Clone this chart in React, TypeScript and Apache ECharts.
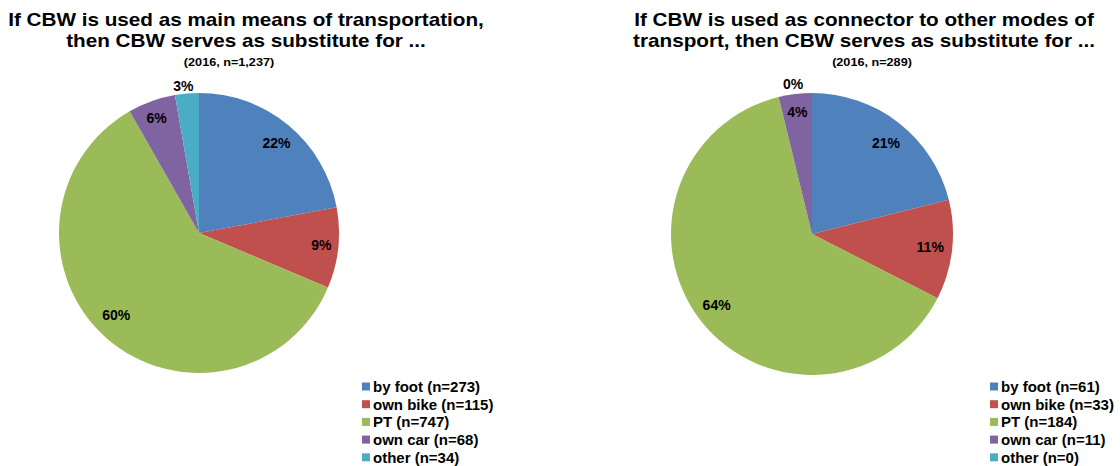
import React, { useEffect, useRef } from 'react';
import * as echarts from 'echarts';

const categories = ['by foot', 'own bike', 'PT', 'own car', 'other'];
const mainValues = [273, 115, 747, 68, 34];
const connectorValues = [61, 33, 184, 11, 0];
const colors = ['#4F81BD', '#C0504D', '#9BBB59', '#8064A2', '#4BACC6'];
const mainTitle = 'If CBW is used as main means of transportation,\nthen CBW serves as substitute for ...';
const mainSubtitle = '(2016, n=1,237)';
const connectorTitle = 'If CBW is used as connector to other modes of\ntransport, then CBW serves as substitute for ...';
const connectorSubtitle = '(2016, n=289)';

const FONT = '"Liberation Sans", Arial, Helvetica, sans-serif';

const panels = [
  {
    values: mainValues,
    title: mainTitle,
    subtitle: mainSubtitle,
    cx: 199,
    cy: 233,
    r: 140,
    titleX: 246,
    subX: 229,
    legendLeft: 362,
    labelDist: [118, 123, 117, 122, 148],
    labelShift: [[2, 1], [0, -1], [-5, -5], [-1, 0], [-3, 0]],
  },
  {
    values: connectorValues,
    title: connectorTitle,
    subtitle: connectorSubtitle,
    cx: 812,
    cy: 234,
    r: 141,
    titleX: 864,
    subX: 872,
    legendLeft: 990,
    labelDist: [117, 119, 119, 122, 150],
    labelShift: [[2, 1], [0, -1], [-2, -3], [0, -1], [-19, 0]],
  },
];

export default function App() {
  const ref = useRef<HTMLDivElement>(null);
  useEffect(() => {
    if (!ref.current) return;
    const chart = echarts.init(ref.current, undefined, { renderer: 'svg' });
    const series: any[] = [];
    const legends: any[] = [];
    const graphics: any[] = [];
    panels.forEach((p) => {
      const names = categories.map((c, i) => `${c} (n=${p.values[i]})`);
      const total = p.values.reduce((a, b) => a + b, 0);
      series.push({
        type: 'pie',
        center: [p.cx, p.cy],
        radius: [0, p.r],
        startAngle: 90,
        clockwise: true,
        percentPrecision: 0,
        avoidLabelOverlap: false,
        data: names.map((n, i) => ({ name: n, value: p.values[i], itemStyle: { color: colors[i] } })),
        label: {
          show: true,
          position: 'inside',
          formatter: '{d}%',
          fontSize: 14,
          fontWeight: 'bold',
          fontFamily: FONT,
          color: '#000',
        },
        labelLine: { show: false },
        labelLayout: (params: any) => {
          const i = params.dataIndex;
          let cum = 0;
          for (let k = 0; k < i; k++) cum += p.values[k];
          const mid = ((cum + p.values[i] / 2) / total) * Math.PI * 2;
          const d = p.labelDist[i];
          return {
            x: p.cx + d * Math.sin(mid) + p.labelShift[i][0],
            y: p.cy - d * Math.cos(mid) + p.labelShift[i][1],
            align: 'center',
            verticalAlign: 'middle',
          };
        },
        emphasis: { disabled: true },
        itemStyle: { borderWidth: 0 },
      });
      legends.push({
        orient: 'vertical',
        left: p.legendLeft,
        top: 379,
        width: 130,
        height: 120,
        padding: 0,
        itemWidth: 8,
        itemHeight: 8,
        itemGap: 2.7,
        icon: 'rect',
        data: names,
        selectedMode: false,
        textStyle: {
          fontSize: 15,
          lineHeight: 14,
          fontWeight: 'bold',
          fontFamily: FONT,
          color: '#000',
          padding: [0, 0, 0, -2],
        },
      });
      graphics.push({
        type: 'text',
        x: p.titleX,
        y: 9,
        scaleX: 1.15,
        style: {
          text: p.title,
          textAlign: 'center',
          textVerticalAlign: 'top',
          font: `bold 18px ${FONT}`,
          lineHeight: 21,
          fill: '#000',
        },
      });
      graphics.push({
        type: 'text',
        x: p.subX,
        y: 62,
        scaleX: 1.15,
        style: {
          text: p.subtitle,
          textAlign: 'center',
          textVerticalAlign: 'middle',
          font: `bold 11px ${FONT}`,
          fill: '#000',
        },
      });
    });
    chart.setOption({
      animation: false,
      backgroundColor: '#fff',
      legend: legends,
      series,
      graphic: graphics,
    });
    return () => chart.dispose();
  }, []);
  return (
    <div
      ref={ref}
      style={{ position: 'absolute', left: 0, top: 0, width: 1120, height: 466 }}
    />
  );
}
